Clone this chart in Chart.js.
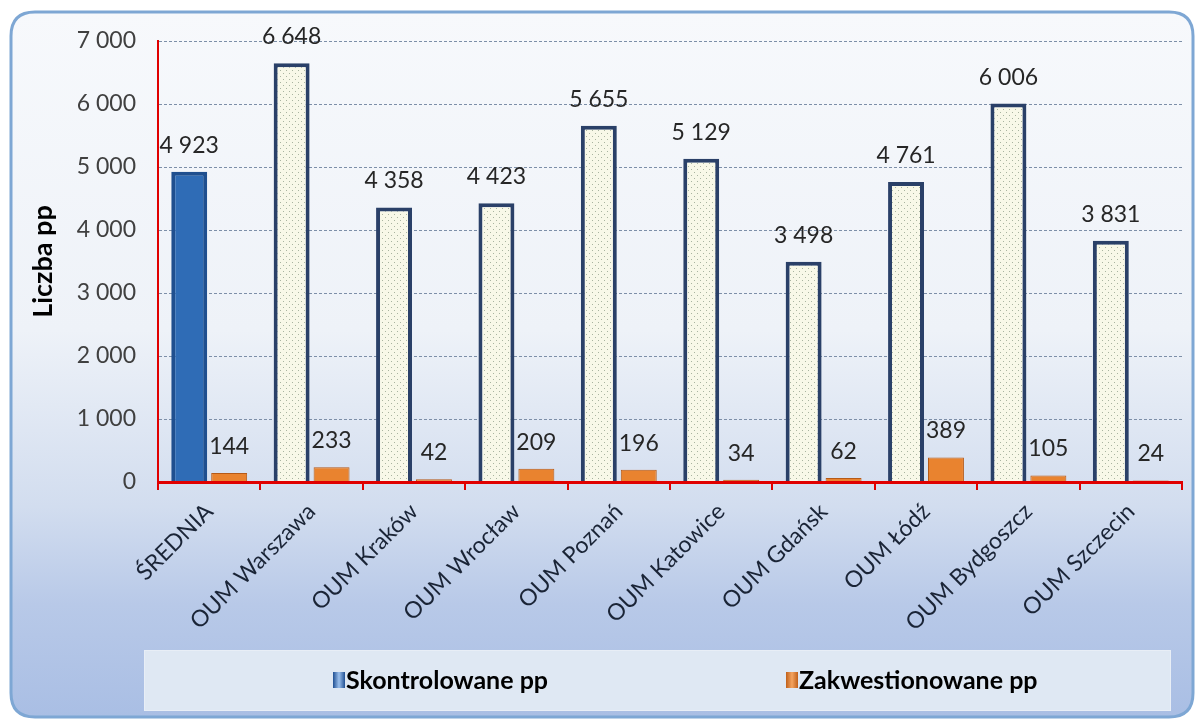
<!DOCTYPE html>
<html>
<head>
<meta charset="utf-8">
<script src="https://cdn.jsdelivr.net/npm/chart.js@4.4.1/dist/chart.umd.min.js"></script>
<style>
  html, body { margin: 0; padding: 0; background: #ffffff; }
  #wrap { width: 1196px; height: 720px; position: relative; }
</style>
</head>
<body>
<div id="wrap"><canvas id="c" width="1196" height="720"></canvas></div>
<script>
const categories = ['ŚREDNIA', 'OUM Warszawa', 'OUM Kraków', 'OUM Wrocław', 'OUM Poznań', 'OUM Katowice', 'OUM Gdańsk', 'OUM Łódź', 'OUM Bydgoszcz', 'OUM Szczecin'];
const skontrolowane = [4923, 6648, 4358, 4423, 5655, 5129, 3498, 4761, 6006, 3831];
const zakwestionowane = [144, 233, 42, 209, 196, 34, 62, 389, 105, 24];
const yTickLabels = ['0', '1 000', '2 000', '3 000', '4 000', '5 000', '6 000', '7 000'];
const seriesNames = ['Skontrolowane pp', 'Zakwestionowane pp'];
const yTitle = 'Liczba pp';

const FONT = 'Lato, "Open Sans", sans-serif';

function fmt(n) {
  return String(n).replace(/\B(?=(\d{3})+(?!\d))/g, ' ');
}

// dotted fill pattern
const pc = document.createElement('canvas');
pc.width = 6; pc.height = 6;
const pctx = pc.getContext('2d');
pctx.fillStyle = '#f8f8e8';
pctx.fillRect(0, 0, 6, 6);
pctx.fillStyle = '#a9b4a0';
pctx.fillRect(1, 1, 1, 1);
pctx.fillRect(4, 4, 1, 1);
const ctxMain = document.getElementById('c').getContext('2d');
const dotPattern = ctxMain.createPattern(pc, 'repeat');

function roundRect(ctx, x, y, w, h, r) {
  ctx.beginPath();
  ctx.moveTo(x + r, y);
  ctx.lineTo(x + w - r, y);
  ctx.quadraticCurveTo(x + w, y, x + w, y + r);
  ctx.lineTo(x + w, y + h - r);
  ctx.quadraticCurveTo(x + w, y + h, x + w - r, y + h);
  ctx.lineTo(x + r, y + h);
  ctx.quadraticCurveTo(x, y + h, x, y + h - r);
  ctx.lineTo(x, y + r);
  ctx.quadraticCurveTo(x, y, x + r, y);
  ctx.closePath();
}

const panelPlugin = {
  id: 'panel',
  beforeDraw(chart) {
    const ctx = chart.ctx;
    ctx.save();
    ctx.fillStyle = '#ffffff';
    ctx.fillRect(0, 0, chart.width, chart.height);
    const g = ctx.createLinearGradient(0, 12, 0, 718);
    g.addColorStop(0, '#f7f9fc');
    g.addColorStop(0.45, '#eef2f8');
    g.addColorStop(0.7, '#d2ddef');
    g.addColorStop(0.84, '#b8c9e8');
    g.addColorStop(1, '#a9bee4');
    roundRect(ctx, 11, 12, 1182, 705, 24);
    ctx.fillStyle = g;
    ctx.fill();
    ctx.lineWidth = 3;
    ctx.strokeStyle = '#7ea7d4';
    ctx.stroke();
    // legend box
    ctx.fillStyle = '#dfe8f3';
    ctx.fillRect(144, 650, 1027, 61);
    ctx.lineWidth = 1;
    ctx.strokeStyle = '#e8eef6';
    ctx.strokeRect(144.5, 650.5, 1026, 60);
    ctx.restore();
  },
  afterDraw(chart) {
    const ctx = chart.ctx;
    ctx.save();
    ctx.font = 'bold 25px ' + FONT;
    ctx.textBaseline = 'middle';
    ctx.fillStyle = '#000000';
    const items = [
      { x: 333, color1: '#9cc0ec', color2: '#1f4f93' },
      { x: 786, color1: '#f4a460', color2: '#c0601a' }
    ];
    chart.data.datasets.forEach((ds, i) => {
      const it = items[i];
      const gg = ctx.createLinearGradient(it.x, 0, it.x + 12, 0);
      gg.addColorStop(0, it.color2);
      gg.addColorStop(0.5, it.color1);
      gg.addColorStop(1, it.color2);
      ctx.fillStyle = gg;
      ctx.fillRect(it.x, 672, 12, 16);
      ctx.fillStyle = '#000000';
      ctx.textAlign = 'left';
      ctx.fillText(ds.label, it.x + 13, 681);
    });
    ctx.restore();
  }
};

const valueLabelsPlugin = {
  id: 'valueLabels',
  afterDatasetsDraw(chart) {
    const ctx = chart.ctx;
    ctx.save();
    ctx.font = '23px ' + FONT;
    ctx.fillStyle = '#262626';
    ctx.textAlign = 'center';
    ctx.textBaseline = 'alphabetic';
    chart.data.datasets.forEach((ds, di) => {
      const meta = chart.getDatasetMeta(di);
      meta.data.forEach((el, i) => {
        ctx.fillText(fmt(ds.data[i]), el.x, el.y - 19);
      });
    });
    ctx.restore();
  }
};

new Chart(ctxMain, {
  type: 'bar',
  data: {
    labels: categories,
    datasets: [
      {
        label: seriesNames[0],
        data: skontrolowane,
        backgroundColor: (c) => c.dataIndex === 0 ? '#2f6cb6' : dotPattern,
        borderColor: (c) => c.dataIndex === 0 ? '#1f4f8f' : '#2a4068',
        borderWidth: 4,
        borderSkipped: 'bottom',
        categoryPercentage: 0.78,
        barPercentage: 0.9
      },
      {
        label: seriesNames[1],
        data: zakwestionowane,
        backgroundColor: '#e9832f',
        borderColor: '#b65a17',
        borderWidth: 1,
        borderSkipped: 'bottom',
        categoryPercentage: 0.78,
        barPercentage: 0.9
      }
    ]
  },
  options: {
    responsive: false,
    animation: false,
    layout: { padding: { left: 11, top: 41, right: 14, bottom: 0 } },
    plugins: {
      legend: { display: false },
      tooltip: { enabled: false }
    },
    scales: {
      x: {
        grid: {
          display: true,
          drawOnChartArea: false,
          drawTicks: true,
          tickLength: 8,
          color: '#e00000',
          lineWidth: 2
        },
        border: { display: true, color: '#e00000', width: 3, z: 1 },
        ticks: {
          minRotation: 45,
          maxRotation: 45,
          autoSkip: false,
          padding: 8,
          color: '#1a2436',
          font: { family: FONT, size: 23 }
        },
        afterFit(scale) { scale.height = 238; }
      },
      y: {
        min: 0,
        max: 7000,
        ticks: {
          stepSize: 1000,
          padding: 22,
          color: '#404040',
          font: { family: FONT, size: 23 },
          callback: (v, i) => yTickLabels[i]
        },
        grid: {
          drawTicks: false,
          color: '#7d8fa8',
          lineWidth: 1
        },
        border: { display: true, color: '#e00000', width: 2, dash: [3, 2] },
        title: {
          display: true,
          text: yTitle,
          color: '#000000',
          font: { family: FONT, size: 27, weight: 'bold' },
          padding: { top: 16, bottom: 0 }
        },
        afterFit(scale) { scale.width = 147; }
      }
    }
  },
  plugins: [panelPlugin, valueLabelsPlugin]
});
</script>
</body>
</html>
